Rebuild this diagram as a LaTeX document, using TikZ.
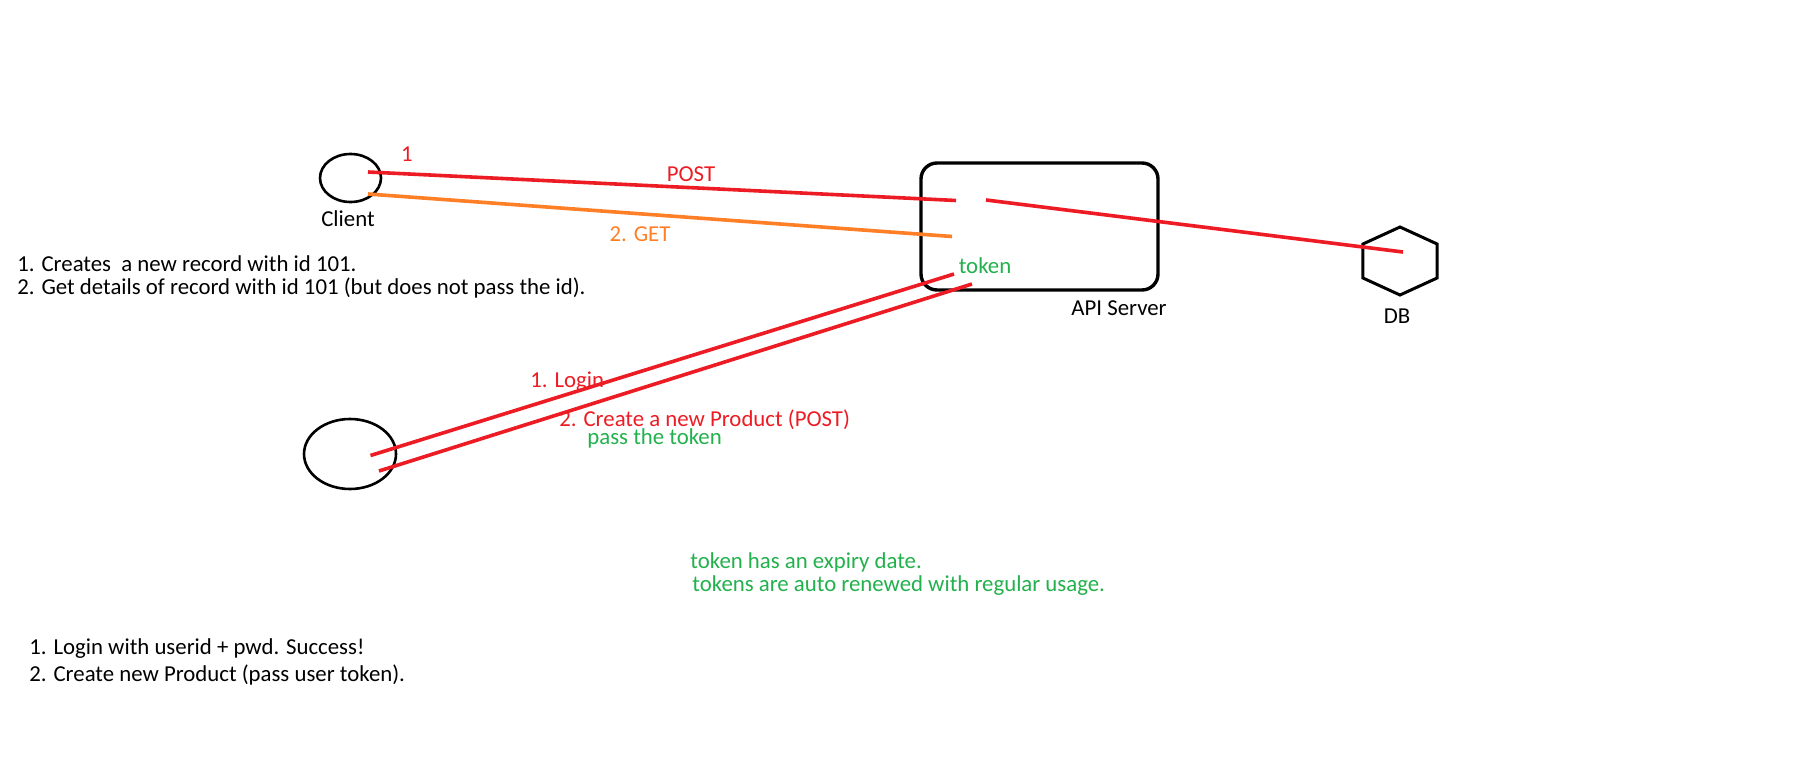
\documentclass[tikz,border=0pt]{standalone}
\usepackage{fontspec}
\setmainfont{Carlito}
\usetikzlibrary{shapes.geometric}
\definecolor{pred}{RGB}{237,28,36}
\definecolor{porange}{RGB}{255,127,39}
\definecolor{pgreen}{RGB}{34,177,76}
\begin{document}
\begin{tikzpicture}[x=0.5pt,y=-0.5pt,
  txt/.style={inner sep=0pt, font=\fontsize{11.4}{13.5}\selectfont},
  ltxt/.style={txt, anchor=west},
  redl/.style={draw=pred, line width=1.8pt},
  orangel/.style={draw=porange, line width=1.8pt},
  actor/.style={draw=black, line width=1.3pt, ellipse, inner sep=0pt},
  server/.style={draw=black, line width=1.7pt, rectangle, rounded corners=8pt, inner sep=0pt},
  dbshape/.style={draw=black, line width=1.5pt, regular polygon, regular polygon sides=6, shape border rotate=30, inner sep=0pt, minimum size=34pt, xscale=1.26}]
\useasboundingbox[fill=white] (0,0) rectangle (1820,781);

% shapes
\node[actor, minimum width=30.5pt, minimum height=24pt] (client) at (350.5,178) {};
\node[actor, minimum width=46pt, minimum height=35pt] (client2) at (350,454) {};
\node[server, minimum width=118.5pt, minimum height=63.5pt] (api) at (1039.5,226.5) {};
\node[dbshape] (db) at (1400,261) {};

% labels of shapes
\node[txt] (clientlbl) at (348,219) {Client};
\node[txt] (apilbl) at (1119,308) {API Server};
\node[txt] (dblbl) at (1397,316) {DB};

% connector end points
\coordinate (postA) at (368,172);
\coordinate (postB) at (956,200.5);
\coordinate (postC) at (986,200);
\coordinate (postD) at (1403,252);
\coordinate (getA) at (368,194);
\coordinate (getB) at (952,236.5);
\coordinate (logA) at (370.5,455.5);
\coordinate (logB) at (954,274);
\coordinate (creA) at (379,471);
\coordinate (creB) at (972,284);

% connectors
\draw[redl] (postA) -- (postB);
\draw[redl] (postC) -- (postD);
\draw[orangel] (getA) -- (getB);
\draw[redl] (logA) -- (logB);
\draw[redl] (creA) -- (creB);

% connector labels
\node[txt, text=pred] (one) at (407,154) {1};
\node[txt, text=pred] (post) at (691,174) {POST};
\node[txt, text=porange] (get) at (640,234) {2. GET};
\node[txt, text=pgreen] (token) at (985,266) {token};
\node[ltxt, text=pred] (login) at (530,382) {1. Login};
\node[txt, anchor=base west, text depth=0pt, text=pred] (create) at (559,426.5) {2. Create a new Product (POST)};
\node[txt, anchor=base west, text=pgreen] (pass) at (587,444.5) {pass the token};

% notes
\node[ltxt] (n1) at (17,264) {1. Creates\ \ a new record with id 101.};
\node[ltxt] (n2) at (17,288) {2. Get details of record with id 101 (but does not pass the id).};
\node[ltxt, text=pgreen] (g1) at (690,562) {token has an expiry date.};
\node[ltxt, text=pgreen] (g2) at (692,586) {tokens are auto renewed with regular usage.};
\node[ltxt] (b1) at (29,649) {1. Login with userid + pwd. Success!};
\node[ltxt] (b2) at (29,675) {2. Create new Product (pass user token).};
\end{tikzpicture}
\end{document}
